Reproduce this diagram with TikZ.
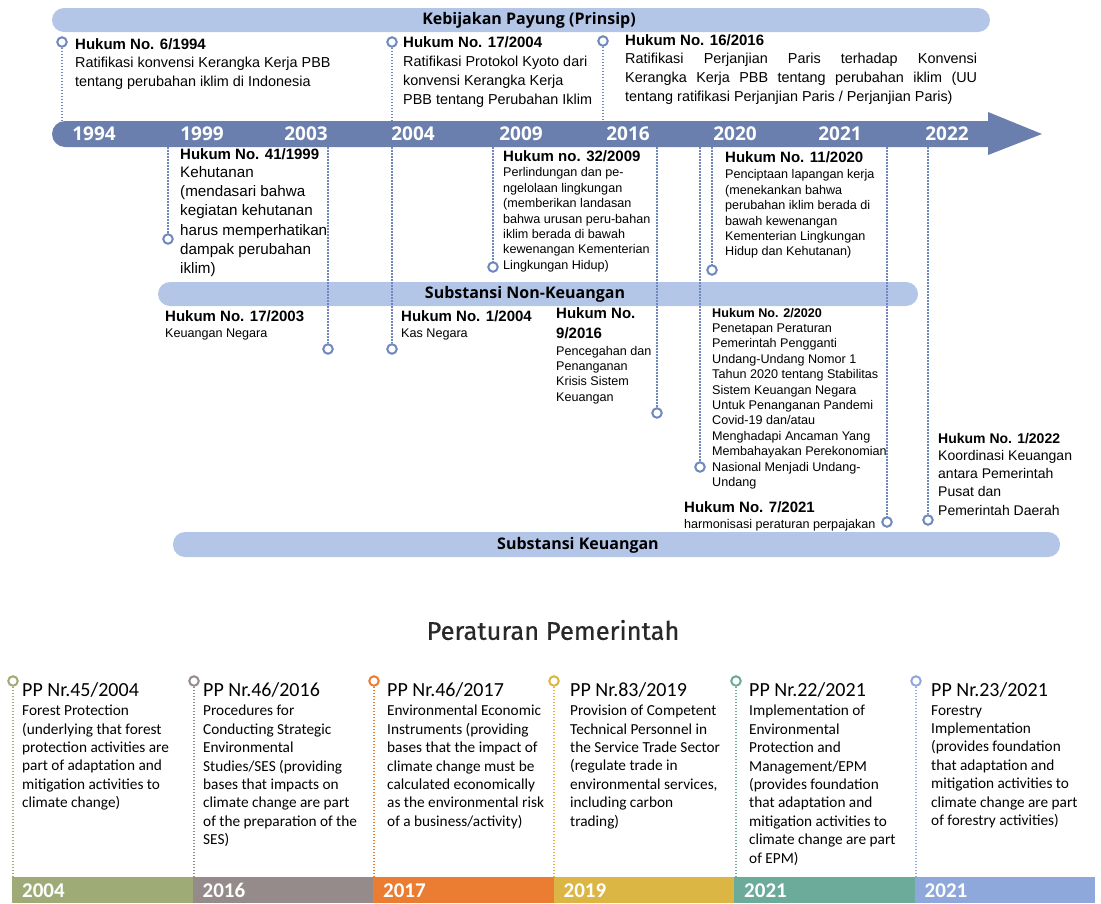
\documentclass[tikz,border=0pt]{standalone}
\usepackage{fontspec}
\setmainfont{Liberation Sans}
\newfontfamily\osans{Open Sans}
\newfontfamily\calib{Carlito}
\newfontfamily\fira[FakeBold=0.6]{Fira Sans}
\newcommand\fsz[2]{\fontsize{#1}{#2}\selectfont}
\definecolor{band}{RGB}{180,198,231}
\definecolor{arrowblue}{RGB}{106,127,174}
\definecolor{dotblue}{RGB}{111,136,190}
\definecolor{ptitle}{RGB}{40,40,40}
\definecolor{cA}{RGB}{158,171,118}
\definecolor{cB}{RGB}{150,139,139}
\definecolor{cC}{RGB}{234,125,49}
\definecolor{cD}{RGB}{219,182,68}
\definecolor{cE}{RGB}{108,170,154}
\definecolor{cF}{RGB}{142,168,220}
\begin{document}
\begin{tikzpicture}[x=1pt,y=-1pt,
  ring/.style={circle,draw=dotblue,line width=2pt,fill=white,inner sep=0pt,minimum size=9.5pt},
  dotline/.style={dotblue,line width=1.6pt,dash pattern=on 1.5pt off 1.5pt},
  ttl/.style={anchor=base west,inner sep=0pt,font=\bfseries\fsz{15}{20}},
  txt/.style={anchor=north west,inner sep=0pt,align=left,font=\fsz{14.4}{19}},
  smalltxt/.style={txt,font=\fsz{12.6}{15.4}},
  yr/.style={text=white,font=\osans\bfseries\fsz{19}{19}},
  bandtxt/.style={font=\osans\bfseries\fsz{16}{16}},
  pptl/.style={anchor=base west,inner sep=0pt,font=\calib\fsz{20}{20}},
  pptxt/.style={anchor=north west,inner sep=0pt,align=left,font=\calib\fsz{15.3}{18.4}},
  ppyr/.style={anchor=base west,inner sep=0pt,text=white,font=\calib\bfseries\fsz{21}{21}}]

  \useasboundingbox (0,0) rectangle (1101,903);

  \newcommand\ppcol[8]{%
    \fill[#5] (#2,877) rectangle +(180.5,26);
    \node[ring,draw=#5] (r#1) at (#3,681) {};
    \coordinate (b#1) at (#3,877);
    \draw[dotline,#5] (r#1) -- (b#1);
    \node[ppyr] (y#1) at (#2+10,897.5) {#6};
    \node[pptl] (t#1) at (#4,696.5) {#7};
    \node[pptxt] (x#1) at (#4,705) {#8};
  }

  %% bands
  \fill[band,rounded corners=12pt] (52,8) rectangle (990,32);
  \fill[band,rounded corners=12pt] (158,282) rectangle (918,306);
  \fill[band,rounded corners=12pt] (173,532) rectangle (1060,557);
  \node[bandtxt] (kp) at (529,20) {Kebijakan Payung (Prinsip)};
  \node[bandtxt] (snk) at (525,294) {Substansi Non-Keuangan};
  \node[bandtxt] (sk) at (578,545) {Substansi Keuangan};

  %% time arrow
  \fill[arrowblue,rounded corners=13pt] (52,121) rectangle (1000,147);
  \fill[arrowblue] (988,112) -- (1042,134) -- (988,155) -- cycle;
  \coordinate (atop) at (0,121);
  \coordinate (abot) at (0,147);
  \node[yr] (y94) at (94,134) {1994};
  \node[yr] (y99) at (202,134) {1999};
  \node[yr] (y03) at (306,134) {2003};
  \node[yr] (y04) at (413,134) {2004};
  \node[yr] (y09) at (521,134) {2009};
  \node[yr] (y16) at (628,134) {2016};
  \node[yr] (y20) at (735,134) {2020};
  \node[yr] (y21) at (840,134) {2021};
  \node[yr] (y22) at (947,134) {2022};

  %% markers above
  \node[ring] (c94) at (62,42) {};
  \node[ring] (c04a) at (392,42) {};
  \node[ring] (c16a) at (603,41) {};
  \draw[dotline] (c94) -- (c94 |- atop);
  \draw[dotline] (c04a) -- (c04a |- atop);
  \draw[dotline] (c16a) -- (c16a |- atop);

  %% markers below
  \node[ring] (c99) at (168,239) {};
  \node[ring] (c03) at (328,349) {};
  \node[ring] (c04b) at (392,349) {};
  \node[ring] (c09) at (493,267) {};
  \node[ring] (c16b) at (657,413) {};
  \node[ring] (c20a) at (700,467) {};
  \node[ring] (c20b) at (712,270) {};
  \node[ring] (c21) at (887,522) {};
  \node[ring] (c22) at (928,520) {};
  \draw[dotline] (c99 |- abot) -- (c99);
  \draw[dotline] (c03 |- abot) -- (c03);
  \draw[dotline] (c04b |- abot) -- (c04b);
  \draw[dotline] (c09 |- abot) -- (c09);
  \draw[dotline] (c16b |- abot) -- (c16b);
  \draw[dotline] (c20a |- abot) -- (c20a);
  \draw[dotline] (c20b |- abot) -- (c20b);
  \draw[dotline] (c21 |- abot) -- (c21);
  \draw[dotline] (c22 |- abot) -- (c22);

  %% Kebijakan Payung
  \node[ttl] (h94) at (75,49.5) {Hukum No. 6/1994};
  \node[txt] (d94) at (75,57) {Ratifikasi konvensi Kerangka Kerja PBB\\tentang perubahan iklim di Indonesia};
  \node[ttl] (h04a) at (403,47.5) {Hukum No. 17/2004};
  \node[txt] (d04a) at (403,56) {Ratifikasi Protokol Kyoto dari\\konvensi Kerangka Kerja\\PBB tentang Perubahan Iklim};
  \node[ttl] (h16a) at (625,45.5) {Hukum No. 16/2016};
  \node[txt] (d16a) at (625,53) {\makebox[352pt][s]{Ratifikasi Perjanjian Paris terhadap Konvensi}\\
    \makebox[352pt][s]{Kerangka Kerja PBB tentang perubahan iklim (UU}\\
    tentang ratifikasi Perjanjian Paris / Perjanjian Paris)};

  %% Substansi Non-Keuangan
  \node[ttl] (h99) at (180,159.5) {Hukum No. 41/1999};
  \node[txt,font=\fsz{15.2}{19.1}] (d99) at (180,166.5) {Kehutanan\\(mendasari bahwa\\kegiatan kehutanan\\harus memperhatikan\\dampak perubahan\\iklim)};
  \node[ttl] (h09) at (503,161.5) {Hukum no. 32/2009};
  \node[smalltxt] (d09) at (503,167.5) {Perlindungan dan pe-\\ngelolaan lingkungan\\(memberikan landasan\\bahwa urusan peru-bahan\\iklim berada di bawah\\kewenangan Kementerian\\Lingkungan Hidup)};
  \node[ttl] (h20b) at (725,162.5) {Hukum No. 11/2020};
  \node[smalltxt] (d20b) at (725,169.5) {Penciptaan lapangan kerja\\(menekankan bahwa\\perubahan iklim berada di\\bawah kewenangan\\Kementerian Lingkungan\\Hidup dan Kehutanan)};

  %% Substansi Keuangan
  \node[ttl] (h03) at (165,321.5) {Hukum No. 17/2003};
  \node[smalltxt] (d03) at (165,328.5) {Keuangan Negara};
  \node[ttl] (h04b) at (401,321.5) {Hukum No. 1/2004};
  \node[smalltxt] (d04b) at (401,328.5) {Kas Negara};
  \node[txt,font=\bfseries\fsz{15}{20}] (h16b) at (556,307.7) {Hukum No.\\9/2016};
  \node[smalltxt] (d16b) at (556,345.7) {Pencegahan dan\\Penanganan\\Krisis Sistem\\Keuangan};
  \node[ttl,font=\bfseries\fsz{12.6}{15}] (h20a) at (712,317.5) {Hukum No. 2/2020};
  \node[smalltxt] (d20a) at (712,323.7) {Penetapan Peraturan\\Pemerintah Pengganti\\Undang-Undang Nomor 1\\Tahun 2020 tentang Stabilitas\\Sistem Keuangan Negara\\Untuk Penanganan Pandemi\\Covid-19 dan/atau\\Menghadapi Ancaman Yang\\Membahayakan Perekonomian\\Nasional Menjadi Undang-\\Undang};
  \node[ttl] (h21) at (684,512.4) {Hukum No. 7/2021};
  \node[smalltxt] (d21) at (684,518.7) {harmonisasi peraturan perpajakan};
  \node[ttl,font=\bfseries\fsz{14}{18}] (h22) at (938,443) {Hukum No. 1/2022};
  \node[txt,font=\fsz{14}{18.3}] (d22) at (938,450) {Koordinasi Keuangan\\antara Pemerintah\\Pusat dan\\Pemerintah Daerah};

  %% Peraturan Pemerintah
  \node[font=\fira\fsz{25.5}{25.5},text=ptitle] (pp) at (553,630) {Peraturan Pemerintah};
  \ppcol{A}{12}{13}{22}{cA}{2004}{PP Nr.45/2004}{Forest Protection\\(underlying that forest\\protection activities are\\part of adaptation and\\mitigation activities to\\climate change)}
  \ppcol{B}{192.5}{194}{203}{cB}{2016}{PP Nr.46/2016}{Procedures for\\Conducting Strategic\\Environmental\\Studies/SES (providing\\bases that impacts on\\climate change are part\\of the preparation of the\\SES)}
  \ppcol{C}{373}{374}{387}{cC}{2017}{PP Nr.46/2017}{Environmental Economic\\Instruments (providing\\bases that the impact of\\climate change must be\\calculated economically\\as the environmental risk\\of a business/activity)}
  \ppcol{D}{553.5}{554}{570}{cD}{2019}{PP Nr.83/2019}{Provision of Competent\\Technical Personnel in\\the Service Trade Sector\\(regulate trade in\\environmental services,\\including carbon\\trading)}
  \ppcol{E}{734}{736}{749}{cE}{2021}{PP Nr.22/2021}{Implementation of\\Environmental\\Protection and\\Management/EPM\\(provides foundation\\that adaptation and\\mitigation activities to\\climate change are part\\of EPM)}
  \ppcol{F}{914.5}{916}{931}{cF}{2021}{PP Nr.23/2021}{Forestry\\Implementation\\(provides foundation\\that adaptation and\\mitigation activities to\\climate change are part\\of forestry activities)}

\end{tikzpicture}
\end{document}
